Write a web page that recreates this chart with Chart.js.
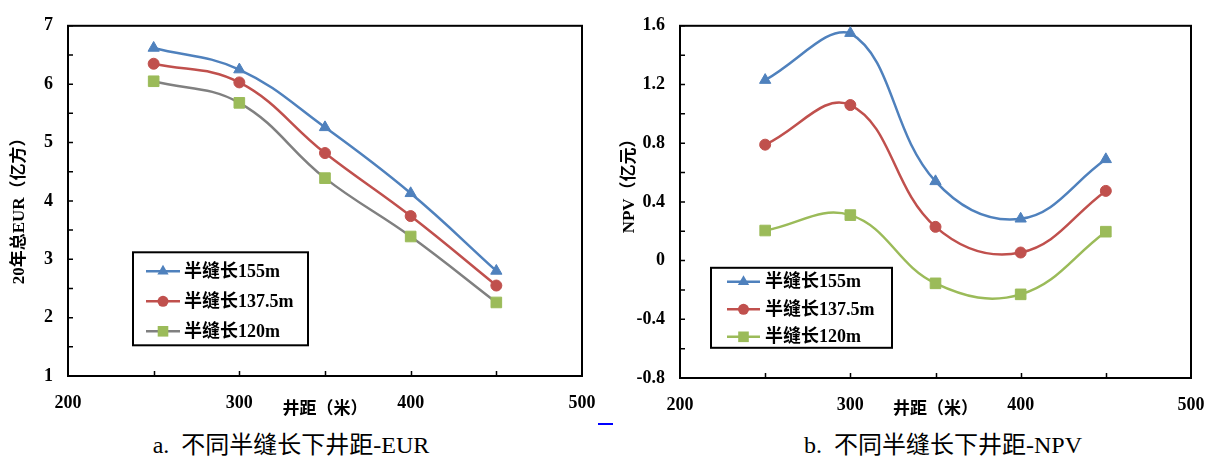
<!DOCTYPE html>
<html>
<head>
<meta charset="utf-8">
<script src="https://cdn.jsdelivr.net/npm/chart.js@4"></script>
<style>
  body { margin: 0; background: #fff; width: 1217px; height: 461px; position: relative; overflow: hidden;
         font-family: 'Liberation Serif', 'Noto Sans CJK SC', serif; }
  canvas { position: absolute; top: 0; }
  #eurChart { left: 0; }
  #npvChart { left: 610px; }
  .cap { position: absolute; top: 431px; font-size: 24px; line-height: 28px; white-space: nowrap; transform: translateX(-50%); }
  #mark { position: absolute; left: 598px; top: 423px; width: 15px; height: 2px; background: #0000ff; }
</style>
</head>
<body>
<canvas id="eurChart" width="600" height="430"></canvas>
<canvas id="npvChart" width="607" height="430"></canvas>
<div class="cap" style="left:291px">a.&nbsp; 不同半缝长下井距-EUR</div>
<div class="cap" style="left:943px">b.&nbsp; 不同半缝长下井距-NPV</div>
<div id="mark"></div>
<script>
// well spacing (m)
var spacing = [250, 300, 350, 400, 450];
var seriesNames = ['半缝长155m', '半缝长137.5m', '半缝长120m'];

// 20-year EUR (亿方)
var eur155 = [6.62, 6.25, 5.26, 4.13, 2.80];
var eur1375 = [6.35, 6.03, 4.82, 3.74, 2.55];
var eur120 = [6.05, 5.68, 4.39, 3.39, 2.26];

// NPV (亿元)
var npv155 = [1.23, 1.55, 0.54, 0.285, 0.69];
var npv1375 = [0.79, 1.06, 0.23, 0.055, 0.475];
var npv120 = [0.205, 0.31, -0.155, -0.23, 0.197];

var xTicks = [200, 300, 400, 500];
var eurTicks = [1, 2, 3, 4, 5, 6, 7];
var npvTicks = [-0.8, -0.4, 0, 0.4, 0.8, 1.2, 1.6];

var FONT = "'Liberation Serif', 'Noto Sans CJK SC', serif";
var BLUE = '#4F81BD', RED = '#C0504D', GREEN = '#9BBB59', GRAY = '#808080';

function pts(vals) {
  return vals.map(function (v, i) { return { x: spacing[i], y: v }; });
}

function marker(ctx, style, x, y, r) {
  ctx.beginPath();
  if (style === 'triangle') {
    var a = 0;
    ctx.moveTo(x + Math.sin(a) * r, y - Math.cos(a) * r);
    a += 2 * Math.PI / 3;
    ctx.lineTo(x + Math.sin(a) * r, y - Math.cos(a) * r);
    a += 2 * Math.PI / 3;
    ctx.lineTo(x + Math.sin(a) * r, y - Math.cos(a) * r);
    ctx.closePath();
  } else if (style === 'circle') {
    ctx.arc(x, y, r, 0, Math.PI * 2);
  } else {
    var s = Math.SQRT1_2 * r;
    ctx.rect(x - s, y - s, 2 * s, 2 * s);
  }
  ctx.fill();
}

// plot frame, inward tick marks, x labels dropped well below the axis and the y title,
// all placed like the Excel original
var framePlugin = {
  id: 'frame',
  beforeDatasetsDraw: function (chart, args, o) {
    var a = chart.chartArea, ctx = chart.ctx;
    var xs = chart.scales.x, ys = chart.scales.y;
    ctx.save();
    ctx.strokeStyle = '#000';
    ctx.lineWidth = 1.5;
    ctx.beginPath();
    spacing.forEach(function (v) {
      var px = Math.round(xs.getPixelForValue(v)) + 0.5;
      ctx.moveTo(px, a.bottom);
      ctx.lineTo(px, a.bottom - 5);
    });
    var t = ys.ticks;
    for (var i = 0; i < t.length; i++) {
      var py = ys.getPixelForValue(t[i].value);
      ctx.moveTo(a.left, py);
      ctx.lineTo(a.left + 5, py);
      if (i < t.length - 1) {
        var pm = ys.getPixelForValue((t[i].value + t[i + 1].value) / 2);
        ctx.moveTo(a.left, pm);
        ctx.lineTo(a.left + 5, pm);
      }
    }
    ctx.stroke();
    ctx.lineWidth = 2;
    ctx.strokeRect(a.left, a.top, a.right - a.left, a.bottom - a.top);

    ctx.fillStyle = '#000';
    ctx.font = 'bold 18px ' + FONT;
    ctx.textAlign = 'center';
    ctx.textBaseline = 'middle';
    xs.ticks.forEach(function (tk) {
      ctx.fillText(String(tk.value), xs.getPixelForValue(tk.value), a.bottom + 27);
    });

    ctx.font = 'bold ' + o.size + 'px ' + FONT;
    ctx.translate(o.x, (a.top + a.bottom) / 2 + o.dy);
    ctx.rotate(-Math.PI / 2);
    ctx.fillText(o.text, 0, 0);
    ctx.restore();
  }
};

// boxed legend sitting inside the plot area
var boxLegendPlugin = {
  id: 'boxLegend',
  afterDraw: function (chart, args, o) {
    var a = chart.chartArea, ctx = chart.ctx;
    var bx = a.left + o.left, by = a.top + o.top;
    ctx.save();
    ctx.fillStyle = '#fff';
    ctx.fillRect(bx, by, o.width, o.height);
    ctx.strokeStyle = '#000';
    ctx.lineWidth = 2;
    ctx.strokeRect(bx, by, o.width, o.height);
    chart.data.datasets.forEach(function (ds, i) {
      var ry = by + o.firstRow + i * o.rowGap;
      ctx.strokeStyle = ds.borderColor;
      ctx.lineWidth = ds.borderWidth;
      ctx.beginPath();
      ctx.moveTo(bx + o.lineFrom, ry);
      ctx.lineTo(bx + o.lineTo, ry);
      ctx.stroke();
      ctx.fillStyle = ds.pointBackgroundColor;
      marker(ctx, ds.pointStyle, bx + (o.lineFrom + o.lineTo) / 2, ry, ds.pointRadius);
      ctx.fillStyle = '#000';
      ctx.font = 'bold 18px ' + FONT;
      ctx.textBaseline = 'middle';
      ctx.fillText(ds.label, bx + o.textX, ry + 1);
    });
    ctx.restore();
  }
};

function dataset(i, vals, line, fill, style, r) {
  return {
    label: seriesNames[i],
    data: pts(vals),
    borderColor: line,
    borderWidth: 2.5,
    pointStyle: style,
    pointRadius: r,
    pointBackgroundColor: fill,
    pointBorderColor: fill,
    pointBorderWidth: 1,
    tension: 0.4,
    showLine: true,
    fill: false
  };
}

function makeChart(id, sets, yTicks, yTitle, pad, yWidth, xHeight, legend) {
  return new Chart(document.getElementById(id), {
    type: 'scatter',
    data: { datasets: sets },
    options: {
      responsive: false,
      animation: false,
      devicePixelRatio: 1,
      layout: { padding: pad },
      plugins: { legend: { display: false }, tooltip: { enabled: false }, boxLegend: legend, frame: yTitle },
      scales: {
        x: {
          type: 'linear', min: 200, max: 500,
          afterBuildTicks: function (s) { s.ticks = xTicks.map(function (v) { return { value: v }; }); },
          afterFit: function (s) { s.height = xHeight; },
          grid: { display: false, drawTicks: false },
          border: { display: false },
          ticks: { display: false },
          title: { display: true, text: '井距（米）', color: '#000', padding: { top: 0, bottom: 10 },
                   font: { family: FONT, size: 17, weight: 'bold' } }
        },
        y: {
          type: 'linear', min: yTicks[0], max: yTicks[yTicks.length - 1],
          afterBuildTicks: function (s) { s.ticks = yTicks.map(function (v) { return { value: v }; }); },
          afterFit: function (s) { s.width = yWidth; },
          grid: { display: false, drawTicks: false },
          border: { display: false },
          ticks: { padding: 15, color: '#000', font: { family: FONT, size: 18, weight: 'bold' },
                   callback: function (v) { return String(Math.round(v * 10) / 10); } }
        }
      }
    },
    plugins: [framePlugin, boxLegendPlugin]
  });
}

makeChart('eurChart', [
  dataset(0, eur155, BLUE, BLUE, 'triangle', 6.5),
  dataset(1, eur1375, RED, RED, 'circle', 5.5),
  dataset(2, eur120, GRAY, GREEN, 'rect', 7.5)
], eurTicks, { text: '20年总EUR（亿方）', x: 20, dy: 6, size: 17 },
  { left: 0, top: 19.5, right: 18, bottom: 0 }, 68, 54,
  { left: 65, top: 226.5, width: 175, height: 93, firstRow: 19, rowGap: 30, lineFrom: 13, lineTo: 47, textX: 51 });

makeChart('npvChart', [
  dataset(0, npv155, BLUE, BLUE, 'triangle', 6.5),
  dataset(1, npv1375, RED, RED, 'circle', 5.5),
  dataset(2, npv120, GREEN, GREEN, 'rect', 7.5)
], npvTicks, { text: 'NPV（亿元）', x: 20, dy: -20, size: 17 },
  { left: 0, top: 24, right: 26, bottom: 0 }, 70, 52,
  { left: 31, top: 242, width: 181, height: 80, firstRow: 14, rowGap: 27.5, lineFrom: 16, lineTo: 49, textX: 54 });
</script>
</body>
</html>
